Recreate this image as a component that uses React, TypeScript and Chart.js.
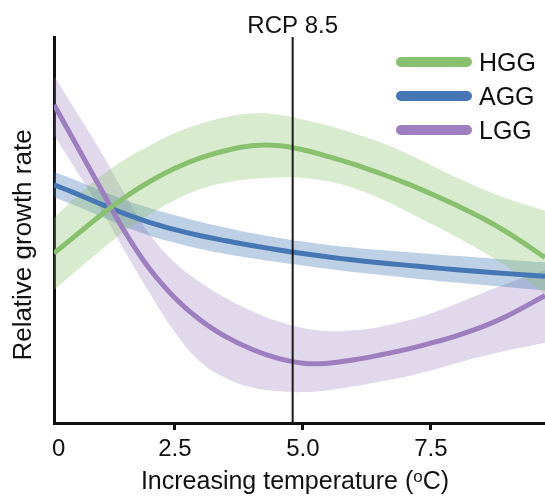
import React, { useEffect, useRef } from "react";
import { Chart, registerables } from "chart.js";

Chart.register(...registerables);

// ---- data ----
const X = [0.14, 0.5, 1, 1.5, 2, 2.5, 3, 3.5, 4, 4.5, 5, 5.5, 6, 6.5, 7, 7.5, 8, 8.5, 9, 9.73];

const HGG = [44.0, 47.9, 53.3, 58.3, 62.5, 66.0, 68.7, 70.6, 71.8, 71.9, 70.8, 69.0, 67.0, 64.7, 62.2, 59.4, 56.4, 53.1, 49.3, 42.9];
const HGG_HI = [53.1, 57.8, 63.5, 68.1, 71.8, 75.1, 77.5, 79.3, 80.2, 79.9, 78.6, 77.0, 75.0, 72.8, 70.0, 66.8, 63.6, 60.7, 58.1, 55.0];
const HGG_LO = [34.5, 38.6, 44.2, 49.5, 54.0, 57.8, 60.6, 62.3, 63.2, 63.6, 63.5, 62.6, 60.8, 58.2, 55.0, 51.6, 48.2, 44.5, 40.4, 33.5];

const AGG = [61.7, 59.8, 57.0, 54.3, 52.0, 50.1, 48.5, 47.2, 46.0, 44.9, 43.9, 43.0, 42.2, 41.5, 40.9, 40.3, 39.7, 39.2, 38.7, 38.0];
const AGG_HI = [65.0, 63.2, 60.5, 57.9, 55.7, 53.8, 52.1, 50.6, 49.2, 48.0, 47.0, 46.1, 45.4, 44.8, 44.3, 43.8, 43.3, 42.8, 42.3, 41.6];
const AGG_LO = [58.5, 56.6, 53.8, 51.0, 48.6, 46.7, 45.1, 43.8, 42.7, 41.7, 40.8, 39.9, 39.1, 38.4, 37.7, 37.0, 36.4, 35.8, 35.2, 34.4];

const LGG = [82.4, 73.8, 61.9, 50.0, 40.0, 32.4, 26.6, 22.3, 19.1, 16.8, 15.5, 15.5, 16.4, 17.6, 19.0, 20.7, 22.6, 24.9, 27.8, 33.0];
const LGG_HI = [89.9, 82.2, 71.5, 59.8, 49.0, 41.5, 36.4, 32.3, 29.0, 26.4, 24.6, 23.8, 24.0, 24.9, 26.4, 28.4, 30.9, 33.6, 36.2, 39.6];
const LGG_LO = [74.6, 67.0, 56.5, 45.0, 33.8, 23.5, 15.8, 11.6, 9.2, 8.3, 8.0, 8.5, 9.5, 10.7, 12.0, 13.6, 15.5, 17.3, 18.8, 20.8];

const SERIES_NAMES = ["HGG", "AGG", "LGG"];
const TICK_VALUES = [0.23, 2.5, 5, 7.5];
const TICK_LABELS = ["0", "2.5", "5.0", "7.5"];
const RCP_X = 4.8;
const RCP_LABEL = "RCP 8.5";
const X_MIN = 0.137;
const X_MAX = 9.73;
const Y_TITLE = "Relative growth rate";
const X_TITLE_MAIN = "Increasing temperature (";
const X_TITLE_SUP = "o";
const X_TITLE_END = "C)";

// ---- styles ----
const FONT = '"Liberation Sans", Arial, Helvetica, sans-serif';
const COLORS = {
  HGG: { line: "#88c070", band: "rgba(140,195,110,0.33)" },
  AGG: { line: "#4677b4", band: "rgba(70,120,180,0.35)" },
  LGG: { line: "#9d7fc0", band: "rgba(155,125,190,0.30)" },
};

const pts = (ys: number[]) => X.map((x, i) => ({ x, y: ys[i] }));

const textPlugin = {
  id: "textPlugin",
  afterDraw(chart: any) {
    const ctx = chart.ctx;
    const xs = chart.scales.x;
    ctx.save();
    ctx.fillStyle = "#111";
    // RCP label
    ctx.font = `24px ${FONT}`;
    ctx.textAlign = "center";
    ctx.textBaseline = "alphabetic";
    ctx.fillText(RCP_LABEL, xs.getPixelForValue(RCP_X), 33);

    // legend
    const legendY = [62, 96, 130];
    SERIES_NAMES.forEach((name, i) => {
      const c = (COLORS as any)[name].line;
      ctx.strokeStyle = c;
      ctx.lineWidth = 10;
      ctx.lineCap = "round";
      ctx.beginPath();
      ctx.moveTo(401, legendY[i]);
      ctx.lineTo(467, legendY[i]);
      ctx.stroke();
      ctx.fillStyle = "#111";
      ctx.font = `25px ${FONT}`;
      ctx.textAlign = "left";
      ctx.fillText(name, 479, legendY[i] + 9);
    });

    // x title with superscript
    ctx.font = `25px ${FONT}`;
    const w1 = ctx.measureText(X_TITLE_MAIN).width;
    const w3 = ctx.measureText(X_TITLE_END).width;
    ctx.font = `17px ${FONT}`;
    const w2 = ctx.measureText(X_TITLE_SUP).width;
    const total = w1 + w2 + w3;
    let sx = 295 - total / 2;
    const base = 489;
    ctx.textAlign = "left";
    ctx.font = `25px ${FONT}`;
    ctx.fillText(X_TITLE_MAIN, sx, base);
    sx += w1;
    ctx.font = `17px ${FONT}`;
    ctx.fillText(X_TITLE_SUP, sx, base - 7);
    sx += w2;
    ctx.font = `25px ${FONT}`;
    ctx.fillText(X_TITLE_END, sx, base);

    // y title
    ctx.translate(24, 245);
    ctx.rotate(-Math.PI / 2);
    ctx.textAlign = "center";
    ctx.textBaseline = "middle";
    ctx.font = `26px ${FONT}`;
    ctx.fillText(Y_TITLE, 0, 0);
    ctx.restore();
  },
};

export default function App() {
  const ref = useRef<HTMLCanvasElement>(null);
  useEffect(() => {
    document.body.style.margin = "0";
    const mk = (name: string, lo: number[], hi: number[], mid: number[], lineOrder: number) => {
      const c = (COLORS as any)[name];
      return [
        {
          label: name + " upper",
          data: pts(hi),
          borderWidth: 0,
          borderColor: "rgba(0,0,0,0)",
          pointRadius: 0,
          fill: false,
          tension: 0.4,
          order: 20,
        },
        {
          label: name + " lower",
          data: pts(lo),
          borderWidth: 0,
          borderColor: "rgba(0,0,0,0)",
          backgroundColor: c.band,
          pointRadius: 0,
          fill: "-1",
          tension: 0.4,
          order: 20,
        },
        {
          label: name,
          data: pts(mid),
          borderWidth: 5,
          borderColor: c.line,
          pointRadius: 0,
          fill: false,
          tension: 0.4,
          order: lineOrder,
        },
      ];
    };
    const datasets: any[] = [
      ...mk("HGG", HGG_LO, HGG_HI, HGG, 1),
      ...mk("AGG", AGG_LO, AGG_HI, AGG, 3),
      ...mk("LGG", LGG_LO, LGG_HI, LGG, 2),
      {
        label: RCP_LABEL,
        data: [
          { x: RCP_X, y: 100 },
          { x: RCP_X, y: 0 },
        ],
        borderWidth: 2,
        borderColor: "#1a1a1a",
        pointRadius: 0,
        fill: false,
        order: 0,
      },
    ];
    const chart = new Chart(ref.current!, {
      type: "line",
      data: { datasets },
      options: {
        responsive: false,
        animation: false,
        layout: { padding: { top: 37, left: 0, right: 0, bottom: 0 } },
        plugins: { legend: { display: false }, tooltip: { enabled: false } },
        scales: {
          x: {
            type: "linear",
            min: X_MIN,
            max: X_MAX,
            afterFit: (s: any) => {
              s.height = 73;
            },
            afterBuildTicks: (s: any) => {
              s.ticks = TICK_VALUES.map((v) => ({ value: v }));
            },
            ticks: {
              autoSkip: false,
              maxRotation: 0,
              color: "#111",
              padding: 5,
              font: { family: FONT, size: 24 },
              callback: (_v: any, i: number) => TICK_LABELS[i],
            },
            grid: {
              display: true,
              drawOnChartArea: false,
              drawTicks: true,
              tickLength: 7,
              tickWidth: 3,
              tickColor: (ctx: any) => (ctx.index === 0 ? "rgba(0,0,0,0)" : "#111"),
            },
            border: { display: true, color: "#111", width: 3 },
          },
          y: {
            min: 0,
            max: 100,
            afterFit: (s: any) => {
              s.width = 54;
            },
            ticks: { display: false },
            grid: { display: false },
            border: { display: true, color: "#111", width: 3 },
          },
        },
      } as any,
      plugins: [textPlugin],
    });
    return () => chart.destroy();
  }, []);
  return (
    <div style={{ width: 545, height: 496 }}>
      <canvas ref={ref} width={545} height={496} style={{ display: "block" }} />
    </div>
  );
}
